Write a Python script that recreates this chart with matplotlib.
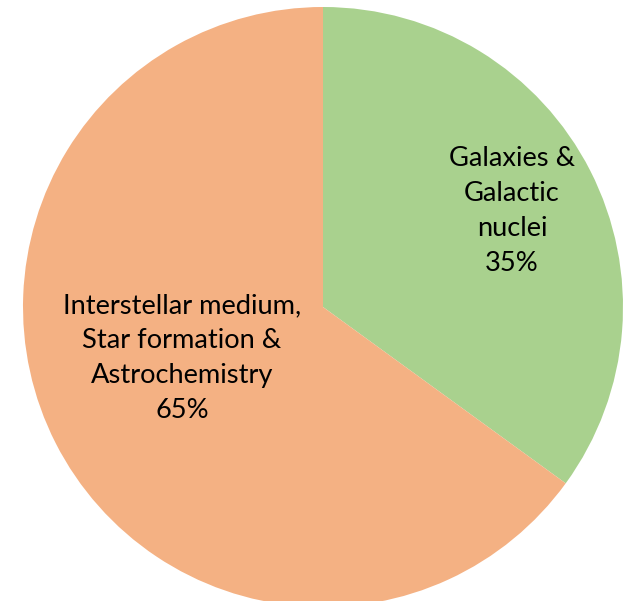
import matplotlib
matplotlib.use("Agg")
import matplotlib.pyplot as plt

labels = ["Galaxies &\nGalactic\nnuclei", "Interstellar medium,\nStar formation &\nAstrochemistry"]
shares = [35, 65]
colors = ["#A9D18E", "#F4B183"]

W, H = 627, 601
fig = plt.figure(figsize=(W / 100, H / 100), dpi=100)
ax = fig.add_axes([0, 0, 1, 1])

cx, cy, r = 323, H - 307, 300
ax.pie(shares, colors=colors, startangle=90, counterclock=False,
       center=(cx, cy), radius=r, frame=True,
       wedgeprops=dict(linewidth=0))
ax.set_xlim(0, W)
ax.set_ylim(0, H)
ax.set_aspect("equal")
ax.axis("off")

# label positions (px from top-left)
label_xy = [(512, 211), (182, 358)]
for lab, s, (x, y) in zip(labels, shares, label_xy):
    ax.text(x, H - y, f"{lab}\n{s}%", ha="center", va="center",
            fontsize=19.6, family="Lato", linespacing=1.5, color="black")

fig.savefig("out.png", dpi=100)
